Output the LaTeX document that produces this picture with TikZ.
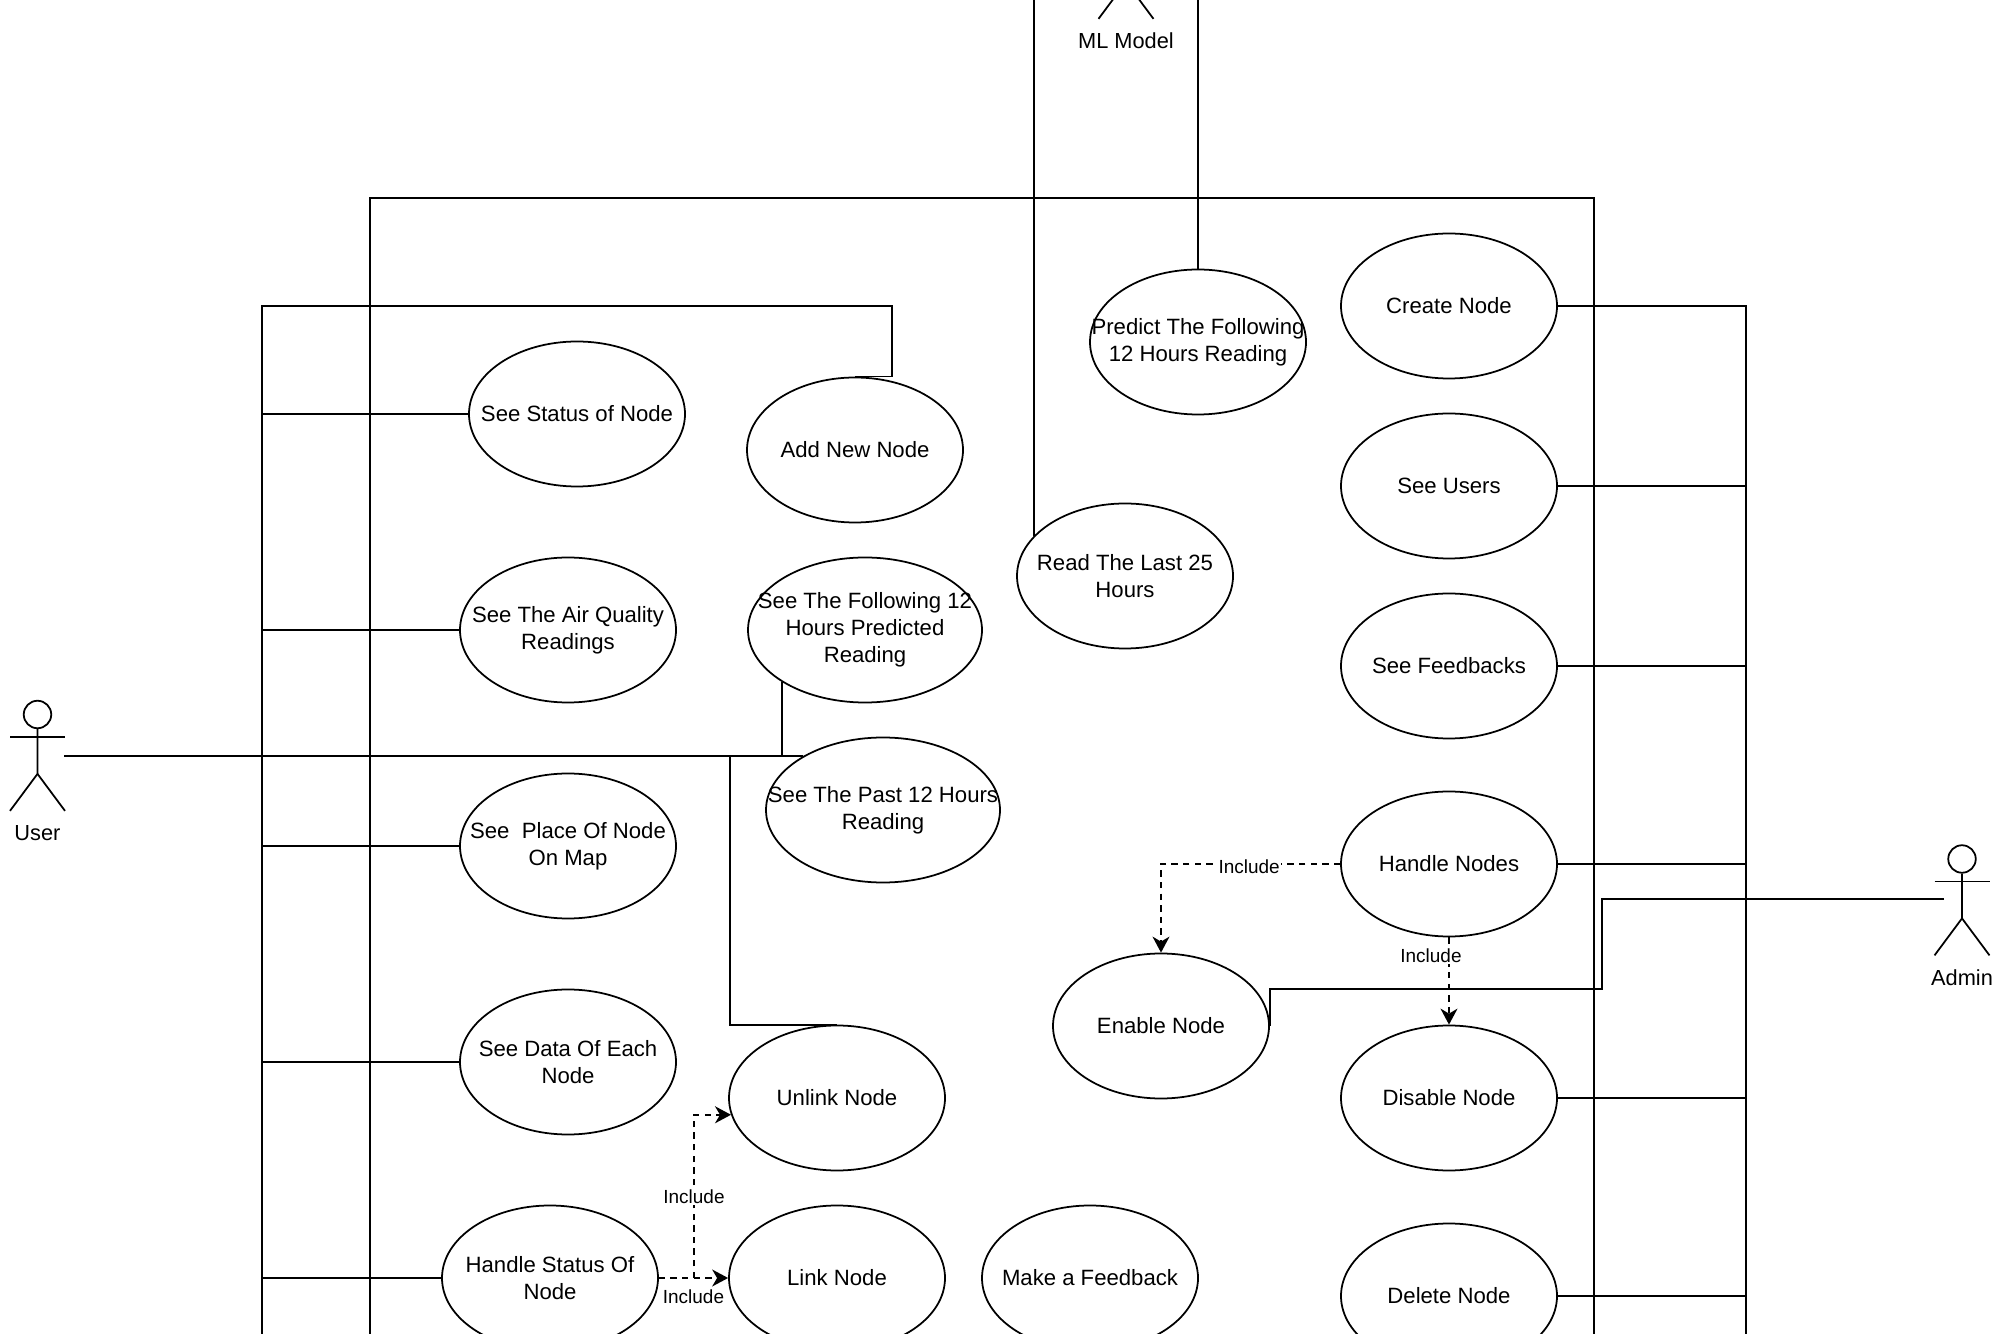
\documentclass[tikz,border=0pt]{standalone}
\usepackage{fontspec}
\setmainfont{Liberation Sans}
\usetikzlibrary{shapes.geometric,arrows.meta}

\tikzset{
  usecase/.style={ellipse, draw, inner xsep=-0.4cm, inner ysep=0pt, minimum width=2.16cm, minimum height=1.45cm, align=center, font=\fontsize{6.3}{7.7}\selectfont},
  usecasewide/.style={usecase, minimum width=2.34cm},
  actorhead/.style={circle, draw, inner sep=0pt, minimum size=0.275cm},
  actorlabel/.style={inner sep=0pt, font=\fontsize{6.2}{7.7}\selectfont},
  includeline/.style={dash pattern=on 1.8pt off 1.5pt, -{Stealth[length=1.6mm,width=1.7mm,inset=0.5mm]}},
  includetext/.style={fill=white, inner sep=0.5pt, font=\fontsize{5.4}{6.5}\selectfont}
}

\newcommand{\actorman}[3]{
  \node[actorhead] (#1Head) at #2 {};
  \draw (#1Head.south) -- ++(0,-0.4475) coordinate (#1Hip) -- ++(-0.275,-0.37);
  \draw (#1Hip) -- ++(0.275,-0.37);
  \draw ([shift={(-0.275,-0.225)}]#1Head.center) -- ++(0.55,0);
  \node[actorlabel] (#1Label) at ([yshift=-1.185cm]#1Head.center) {#3};
}

\begin{document}
\begin{tikzpicture}[line width=0.5pt]
    \useasboundingbox (0,0) rectangle (20,13.33);
    \clip (0,0) rectangle (20,13.33);

    % system boundary
    \draw (3.70,-1) rectangle (15.94,11.35);

    \actorman{User}{(0.375,6.185)}{User}
    \actorman{Admin}{(19.62,4.74)}{Admin}
    \actorman{ML}{(11.26,14.105)}{ML Model}

    \node[usecase] (Create) at (14.49, 10.27) {Create Node};
    \node[usecase] (Users) at (14.49, 8.47) {See Users};
    \node[usecase] (Feedbacks) at (14.49, 6.67) {See Feedbacks};
    \node[usecase] (Handle) at (14.49, 4.69) {Handle Nodes};
    \node[usecase] (Disable) at (14.49, 2.35) {Disable Node};
    \node[usecase] (Delete) at (14.49, 0.37) {Delete Node};
    \node[usecase] (Predict) at (11.98, 9.91) {Predict The Following\\12 Hours Reading};
    \node[usecase] (Read) at (11.25, 7.57) {Read The Last 25\\Hours};
    \node[usecase] (Enable) at (11.61, 3.07) {Enable Node};
    \node[usecase] (Add) at (8.55, 8.83) {Add New Node};
    \node[usecase] (Status) at (5.77, 9.19) {See Status of Node};
    \node[usecase] (Air) at (5.68, 7.03) {See The Air Quality\\Readings};
    \node[usecasewide] (Following) at (8.65, 7.03) {See The Following 12\\Hours Predicted\\Reading};
    \node[usecasewide] (Past) at (8.83, 5.23) {See The Past 12 Hours\\Reading};
    \node[usecase] (Place) at (5.68, 4.87) {See\ \ Place Of Node\\On Map};
    \node[usecase] (Data) at (5.68, 2.71) {See Data Of Each\\Node};
    \node[usecase] (Unlink) at (8.37, 2.35) {Unlink Node};
    \node[usecase] (HandleStatus) at (5.50, 0.55) {Handle Status Of\\Node};
    \node[usecase] (Link) at (8.37, 0.55) {Link Node};
    \node[usecase] (Feedback) at (10.90, 0.55) {Make a Feedback};

    \coordinate (UserHand) at (0.64, 5.77);
    \coordinate (UnlinkDrop) at (7.30, 5.77);
    \coordinate (AddTurn) at (8.92, 10.27);
    \coordinate (UserBus) at (2.62, -1);
    \coordinate (AdminBus) at (17.46, -1);
    \coordinate (AdminHand) at (19.44, 4.34);
    \coordinate (AdminStep) at (16.02, 3.44);
    \coordinate (StatusKnee) at (6.94, 0.55);

    % user side
    \draw (UserHand) -- (Past.146);
    \draw (Following.212) -- (Following.212 |- UserHand);
    \draw (UnlinkDrop) |- (Unlink.north);
    \draw (Add.north) -| (AddTurn) -| (UserBus);
    \draw (Status.west) -- (Status.west -| UserBus);
    \draw (Air.west) -- (Air.west -| UserBus);
    \draw (Place.west) -- (Place.west -| UserBus);
    \draw (Data.west) -- (Data.west -| UserBus);
    \draw (HandleStatus.west) -- (HandleStatus.west -| UserBus);

    % admin side
    \draw (Create.east) -| (AdminBus);
    \draw (Users.east) -- (Users.east -| AdminBus);
    \draw (Feedbacks.east) -- (Feedbacks.east -| AdminBus);
    \draw (Handle.east) -- (Handle.east -| AdminBus);
    \draw (Disable.east) -- (Disable.east -| AdminBus);
    \draw (Delete.east) -- (Delete.east -| AdminBus);
    \draw (AdminHand) -| (AdminStep) -| (Enable.east);

    % model
    \draw (Predict.north) -- (Predict.north |- MLHead);
    \draw (Read.156) -- (Read.156 |- MLHead);

    % include
    \draw[includeline] (Handle.west) -| node[includetext, pos=0.254, yshift=-0.03cm] (IncEnable) {Include} (Enable.north);
    \draw[includeline] (Handle.south) -- node[includetext, pos=0.21, xshift=-0.18cm] (IncDisable) {Include} (Disable.north);
    \draw[includeline] (HandleStatus.east) -- node[includetext, yshift=-0.19cm] (IncLink) {Include} (Link.west);
    \draw[includeline] (StatusKnee) |- node[includetext, pos=0.25] (IncUnlink) {Include} (Unlink.189);

\end{tikzpicture}
\end{document}
